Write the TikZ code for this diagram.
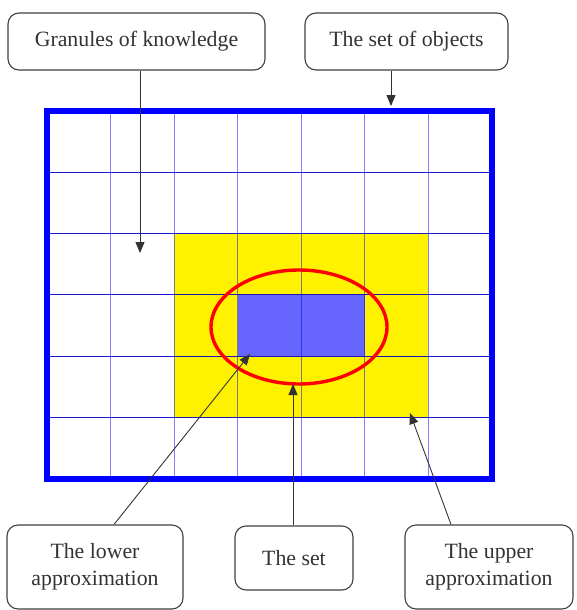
\documentclass[tikz,border=0pt]{standalone}
\usepackage{fontspec}
\setmainfont{Liberation Serif}
\usetikzlibrary{arrows.meta}
\definecolor{setblue}{HTML}{6666FF}
\definecolor{txtgray}{HTML}{333333}
\tikzset{
  labelbox/.style={draw=black!75, line width=1.1pt, rounded corners=11pt, fill=white,
    font=\fontsize{21.8}{27}\selectfont, text=txtgray, align=center, inner sep=0pt},
  arr/.style={draw=black!80, line width=0.9pt, -{Triangle[length=11pt,width=9pt]}},
  vline/.style={draw=blue, opacity=0.5, line width=1.2pt},
  hline/.style={draw=blue!80!black, opacity=0.9, line width=1pt},
}
\begin{document}
\begin{tikzpicture}[x=1pt,y=-1pt]
\useasboundingbox (0,0) rectangle (576,610);
% fills
\fill[yellow] (174.1,233.7) rectangle (428.4,417.7);
\fill[setblue] (237.7,295) rectangle (364.9,356.3);
% grid
\foreach \i in {1,...,6} {
  \draw[vline] ({47+\i*63.57},111) -- ({47+\i*63.57},479);
}
\foreach \j in {1,...,5} {
  \draw[hline] (47,{111+\j*61.33}) -- (492,{111+\j*61.33});
}
\draw[blue, line width=6.5pt] (47,111) rectangle (492,479);
% the set
\draw[red, line width=3.4pt] (299,327) ellipse [x radius=88, y radius=57];
% boxes
\node[labelbox, minimum width=257pt, minimum height=57pt] (gran) at (136.5,41.5) {Granules of knowledge};
\node[labelbox, minimum width=203pt, minimum height=57pt] (objs) at (406.5,41.5) {The set of objects};
\node[labelbox, minimum width=176pt, minimum height=84pt] (lower) at (95,567) {The lower\\approximation};
\node[labelbox, minimum width=118pt, minimum height=64pt] (theset) at (294,558) {The set};
\node[labelbox, minimum width=168pt, minimum height=84pt] (upper) at (489,567) {The upper\\approximation};
% arrow tips
\coordinate (tgran) at (140,253);
\coordinate (tobjs) at (391,106);
\coordinate (tlow) at (250,354);
\coordinate (slow) at (114,0);
\coordinate (tset) at (293,384);
\coordinate (tup) at (410,413);
\coordinate (sup2) at (451,0);
\draw[arr] (gran.south -| tgran) -- (tgran);
\draw[arr] (objs.south -| tobjs) -- (tobjs);
\draw[arr] (lower.north -| slow) -- (tlow);
\draw[arr] (theset.north -| tset) -- (tset);
\draw[arr] (upper.north -| sup2) -- (tup);
\end{tikzpicture}
\end{document}
